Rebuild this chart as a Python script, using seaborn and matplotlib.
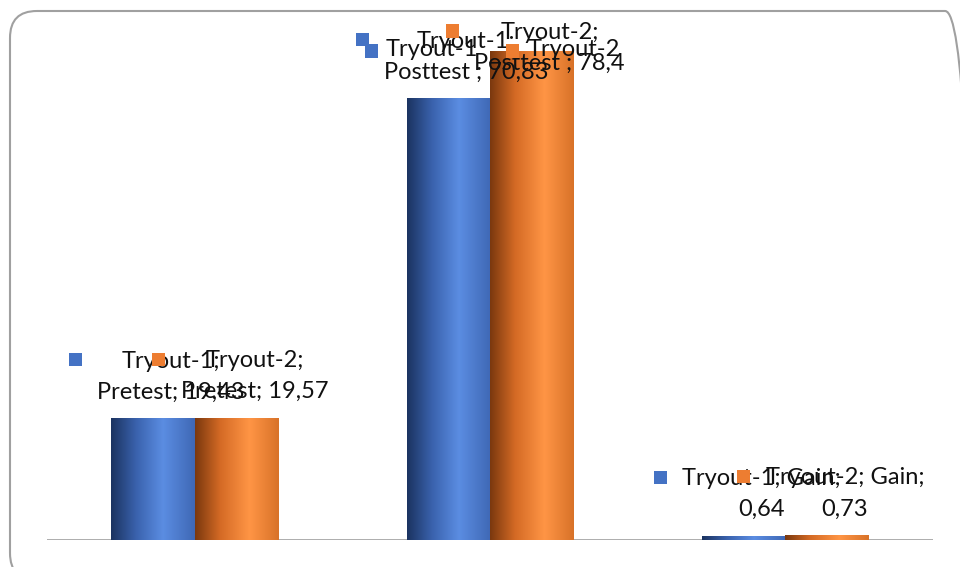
import numpy as np
import pandas as pd
import matplotlib.pyplot as plt
import seaborn as sb
from matplotlib.colors import LinearSegmentedColormap
from matplotlib.patches import FancyBboxPatch, Rectangle

# data
tests = ['Pretest', 'Posttest', 'Gain']
tryouts = ['Tryout-1', 'Tryout-2']
tryout1 = [19.43, 70.83, 0.64]
tryout2 = [19.57, 78.4, 0.73]
labels1 = ['Tryout-1;\nPretest; 19,43', 'Tryout-1;\nPosttest ; 70,83', 'Tryout-1; Gain;\n0,64']
labels2 = ['Tryout-2;\nPretest; 19,57', 'Tryout-2;\nPosttest ; 78,4', 'Tryout-2; Gain;\n0,73']
ghost1 = ['', 'Tryout-1', '']
ghost2 = ['', 'Tryout-2', '']

blue = '#4472C4'
orange = '#ED7D31'
cmaps = [LinearSegmentedColormap.from_list('b', [(0, '#1b3360'), (0.3, '#3a62ad'), (0.62, '#5b8de2'), (1, '#3f68b5')]),
         LinearSegmentedColormap.from_list('o', [(0, '#7a380e'), (0.3, '#d46a25'), (0.65, '#ff9545'), (1, '#d87228')])]

df = pd.DataFrame({'test': tests * 2,
                   'score': tryout1 + tryout2,
                   'tryout': [tryouts[0]] * 3 + [tryouts[1]] * 3})

W, H = 960, 567
fig = plt.figure(figsize=(W / 100, H / 100), dpi=100)
ax = fig.add_axes([47 / W, 27 / H, (933 - 47) / W, (540 - 20) / H])

sb.barplot(data=df, x='test', y='score', hue='tryout', palette=[blue, orange],
           width=0.565, gap=0, saturation=1, legend=False, ax=ax)
ax.axis('off')

# gradient fill on each bar
grad = np.linspace(0, 1, 256).reshape(1, -1)
for i, p in enumerate(ax.patches[:6]):
    s = i // 3
    x0, y0 = p.get_x(), p.get_y()
    w, h = p.get_width(), p.get_height()
    p.set_facecolor('none')
    p.set_edgecolor('none')
    ax.imshow(grad, cmap=cmaps[s], extent=(x0, x0 + w, y0, y0 + h),
              aspect='auto', zorder=2, interpolation='bicubic')
ax.set_xlim(-0.5, 2.5)
ax.set_ylim(0, 520 / 6.23)

# baseline
ax.axhline(0, color='#a6a6a6', lw=2, zorder=1)

# frame
fig.patches.append(FancyBboxPatch((10 / W, -13 / H), (972 - 10) / W, (556 + 13) / H,
                                  boxstyle='round,pad=0,rounding_size=0.028',
                                  transform=fig.transFigure, fc='none', ec='#a0a0a0', lw=1.5,
                                  mutation_aspect=W / H))

plt.rcParams['font.family'] = ['Lato', 'DejaVu Sans']
fig.canvas.draw()
renderer = fig.canvas.get_renderer()

def put_label(px, py, text, color, first_line_dy):
    t = fig.text(px / W, py / H, text, ha='center', va='center', ma='center',
                 fontsize=17, color='#111111', linespacing=1.6, zorder=5)
    bb = t.get_window_extent(renderer)
    kx = bb.x0 - 22
    ky = py + first_line_dy
    fig.patches.append(Rectangle(((kx - 6.5) / W, (ky - 6.5) / H), 13 / W, 13 / H,
                                 transform=fig.transFigure, fc=color, ec='none', zorder=6))

colors = [blue, orange]
for i, p in enumerate(ax.patches[:6]):
    s, k = i // 3, i % 3
    cx, top = ax.transData.transform((p.get_x() + p.get_width() / 2, p.get_height()))
    px = cx + 18
    py = min(top + 42, H - 48)
    text = (labels1 if s == 0 else labels2)[k]
    put_label(px, py, text, colors[s], 17)
    g = (ghost1 if s == 0 else ghost2)[k]
    if g:
        t = fig.text((px - 34 + 58 * s) / W, (H - 50) / H, g, ha='center', va='center',
                     fontsize=17, color='#111111', zorder=5)
        bb = t.get_window_extent(renderer)
        fig.patches.append(Rectangle(((bb.x0 - 15 - 6.5) / W, (H - 51 - 6.5) / H), 13 / W, 13 / H,
                                     transform=fig.transFigure, fc=colors[s], ec='none', zorder=6))

fig.savefig('out.png', dpi=100)
